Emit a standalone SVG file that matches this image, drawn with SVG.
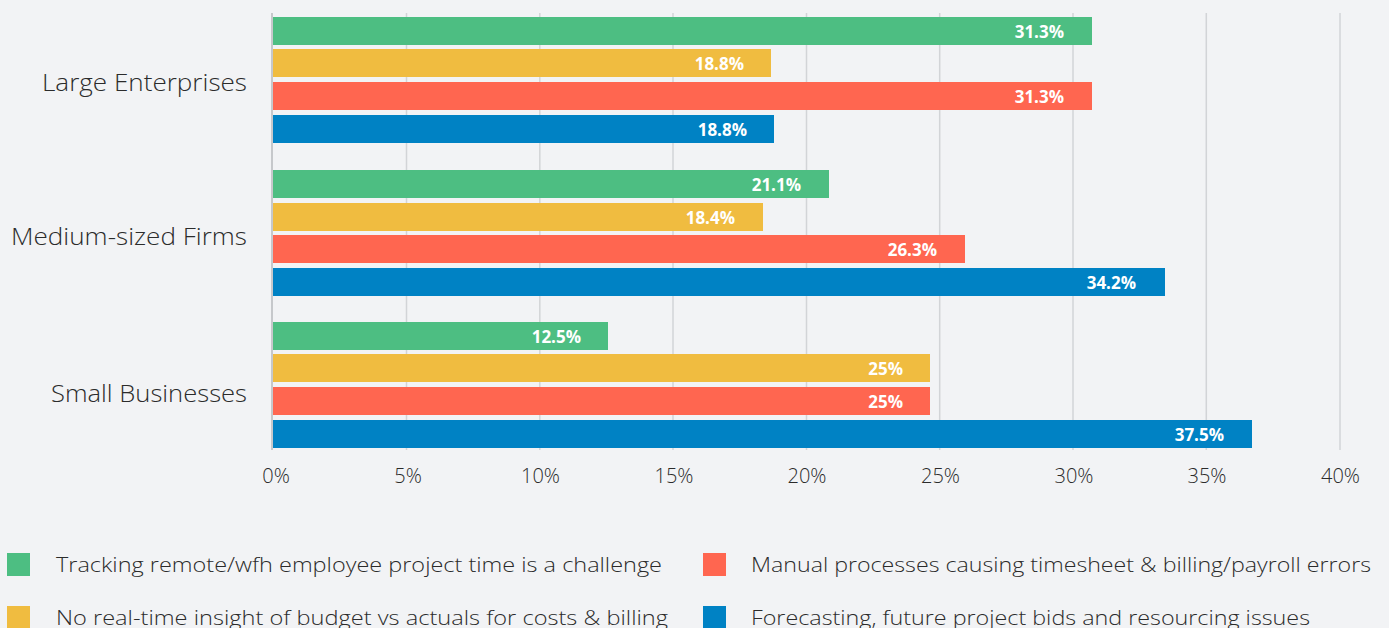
<svg xmlns="http://www.w3.org/2000/svg" width="1389" height="628" viewBox="0 0 1389 628">
<style>
.bg{fill:#F2F3F5}
.grid{stroke:#D2D4D7;stroke-width:1.5}
.axis{stroke:#C6C8CB;stroke-width:2}
.g{fill:#4DBE82}.y{fill:#F0BC40}.r{fill:#FF6650}.b{fill:#0082C4}
.val{font-family:"Open Sans","Liberation Sans",sans-serif;font-weight:700;font-size:17px;fill:#FFFFFF;text-anchor:end}
.cat{font-family:"Open Sans","Liberation Sans",sans-serif;font-weight:300;font-size:23px;fill:#2B2B2B}
.tick{font-family:"Open Sans","Liberation Sans",sans-serif;font-weight:300;font-size:20px;fill:#2B2B2B;text-anchor:middle}
.leg{font-family:"Open Sans","Liberation Sans",sans-serif;font-weight:300;font-size:20.5px;fill:#2B2B2B}
</style>
<rect class="bg" x="0" y="0" width="1389" height="628"/>
<g id="gridlines">
<line class="grid" x1="406.5" y1="13" x2="406.5" y2="450"/>
<line class="grid" x1="539.8" y1="13" x2="539.8" y2="450"/>
<line class="grid" x1="673" y1="13" x2="673" y2="450"/>
<line class="grid" x1="806.5" y1="13" x2="806.5" y2="450"/>
<line class="grid" x1="939.7" y1="13" x2="939.7" y2="450"/>
<line class="grid" x1="1073" y1="13" x2="1073" y2="450"/>
<line class="grid" x1="1206.3" y1="13" x2="1206.3" y2="450"/>
<line class="grid" x1="1340" y1="13" x2="1340" y2="450"/>
<line class="axis" x1="272" y1="13" x2="272" y2="450"/>
</g>
<g id="ticks">
<text class="tick" x="276" y="483">0%</text>
<text class="tick" x="408" y="483">5%</text>
<text class="tick" x="540.5" y="483">10%</text>
<text class="tick" x="674" y="483">15%</text>
<text class="tick" x="807" y="483">20%</text>
<text class="tick" x="940.5" y="483">25%</text>
<text class="tick" x="1074" y="483">30%</text>
<text class="tick" x="1207" y="483">35%</text>
<text class="tick" x="1340.5" y="483">40%</text>
</g>
<g id="large-enterprises">
<text class="cat" x="42" y="91" textLength="205" lengthAdjust="spacingAndGlyphs">Large Enterprises</text>
<rect class="g" x="273" y="17" width="819" height="28"/><text class="val" x="1064" y="38">31.3%</text>
<rect class="y" x="273" y="49" width="498" height="28"/><text class="val" x="744" y="70">18.8%</text>
<rect class="r" x="273" y="82" width="819" height="28"/><text class="val" x="1064" y="103">31.3%</text>
<rect class="b" x="273" y="115" width="501" height="28"/><text class="val" x="747" y="136">18.8%</text>
</g>
<g id="medium-sized-firms">
<text class="cat" x="11" y="245" textLength="236" lengthAdjust="spacingAndGlyphs">Medium-sized Firms</text>
<rect class="g" x="273" y="170" width="556" height="28"/><text class="val" x="801" y="191">21.1%</text>
<rect class="y" x="273" y="203" width="490" height="28"/><text class="val" x="735" y="224">18.4%</text>
<rect class="r" x="273" y="235" width="692" height="28"/><text class="val" x="937" y="256">26.3%</text>
<rect class="b" x="273" y="268" width="892" height="28"/><text class="val" x="1136" y="289">34.2%</text>
</g>
<g id="small-businesses">
<text class="cat" x="51" y="402" textLength="196" lengthAdjust="spacingAndGlyphs">Small Businesses</text>
<rect class="g" x="273" y="322" width="335" height="28"/><text class="val" x="581" y="343">12.5%</text>
<rect class="y" x="273" y="354" width="657" height="28"/><text class="val" x="903" y="375">25%</text>
<rect class="r" x="273" y="387" width="657" height="28"/><text class="val" x="903" y="408">25%</text>
<rect class="b" x="273" y="420" width="979" height="28"/><text class="val" x="1224" y="441">37.5%</text>
</g>
<g id="legend">
<rect class="g" x="7" y="553" width="23" height="23"/>
<text class="leg" x="56" y="572" textLength="606" lengthAdjust="spacingAndGlyphs">Tracking remote/wfh employee project time is a challenge</text>
<rect class="y" x="7" y="606" width="23" height="23"/>
<text class="leg" x="56" y="625" textLength="612" lengthAdjust="spacingAndGlyphs">No real-time insight of budget vs actuals for costs &amp; billing</text>
<rect class="r" x="703" y="553" width="23" height="23"/>
<text class="leg" x="751" y="572" textLength="620" lengthAdjust="spacingAndGlyphs">Manual processes causing timesheet &amp; billing/payroll errors</text>
<rect class="b" x="703" y="606" width="23" height="23"/>
<text class="leg" x="751" y="625" textLength="559" lengthAdjust="spacingAndGlyphs">Forecasting, future project bids and resourcing issues</text>
</g>
</svg>
